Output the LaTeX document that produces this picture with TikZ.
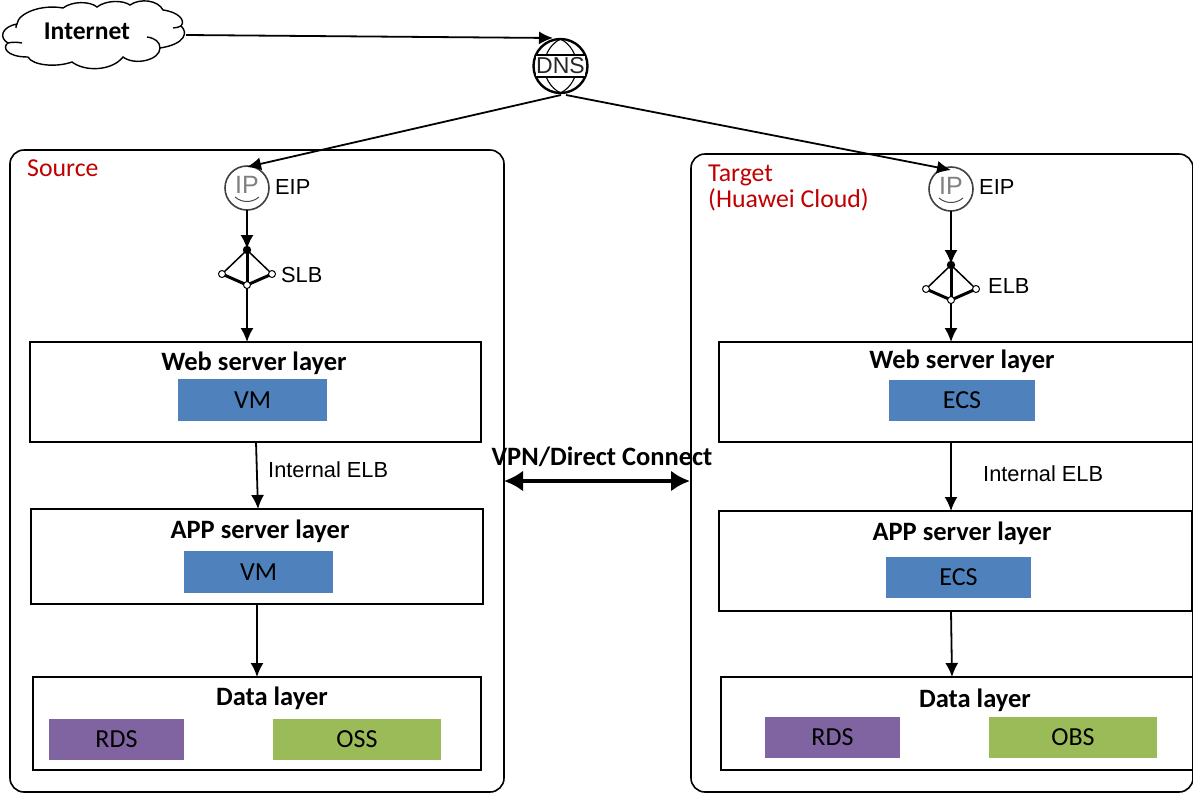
\documentclass[tikz,border=0pt]{standalone}
\usepackage{fontspec}
\setmainfont{Carlito}
\newfontfamily\arialf{Liberation Sans}
\usetikzlibrary{arrows.meta,calc}
\definecolor{vmblue}{HTML}{4F81BD}
\definecolor{dbpurple}{HTML}{8064A2}
\definecolor{ossgreen}{HTML}{9BBB59}
\definecolor{srcred}{HTML}{C00000}
\tikzset{
  x=1pt,y=-1pt,
  flow/.style={draw=black,line width=1.8pt,-{Latex[length=14pt,width=13pt]}},
  panel/.style={draw=black,line width=1.6pt,rounded corners=14pt,anchor=north west,inner sep=0,outer sep=0},
  layerbox/.style={draw=black,line width=1.6pt,anchor=north west,inner sep=0,outer sep=0},
  fillbox/.style={anchor=center,inner sep=0,outer sep=0,font=\fontsize{26}{28}\selectfont,text=black},
  layertitle/.style={font=\bfseries\fontsize{26.5}{28}\selectfont,anchor=center,inner sep=0},
  armlabel/.style={font=\arialf\fontsize{21.8}{24}\selectfont,anchor=west,inner sep=0},
  redlabel/.style={font=\fontsize{25.8}{26}\selectfont,text=srcred,anchor=north west,inner sep=0,align=left},
  ghost/.style={inner sep=0,outer sep=0,minimum width=#1,minimum height=40pt},
  opendot/.style={circle,draw=black,fill=white,line width=1pt,inner sep=0,minimum size=7pt},
  ipring/.style={circle,draw=black!75,line width=1.6pt,fill=white,inner sep=0,outer sep=0,minimum size=44pt},
}
\newcommand{\lbicon}[1]{%
  \fill (#1)+(0,-19) circle (4.2);
  \draw[line width=1.5pt] (#1)+(0,-19) -- +(-25,5);
  \draw[line width=1.5pt] (#1)+(0,-19) -- +(25,5);
  \draw[line width=3pt] (#1)+(0,-19) -- +(0,16);
  \draw[line width=3pt] (#1)+(-25,5) -- +(0,16) -- +(25,5);
  \node[opendot] at ($(#1)+(-25,5)$) {};
  \node[opendot] at ($(#1)+(25,5)$) {};
  \node[opendot] at ($(#1)+(0,16)$) {};
}
\newcommand{\ipicon}[1]{%
  \node[font=\arialf\fontsize{25}{26}\selectfont,text=black!50,inner sep=0] at ($(#1)+(0,-3)$) {IP};
  \draw[black!70,line width=1pt] ($(#1)+(-12,9)$) .. controls ($(#1)+(-5,15)$) and ($(#1)+(5,15)$) .. ($(#1)+(12,9)$);
}
\begin{document}
\begin{tikzpicture}
\useasboundingbox (0,0) rectangle (1193,793);
% panels
\node[panel,minimum width=494pt,minimum height=642pt] (src) at (10,150) {};
\node[panel,minimum width=502pt,minimum height=638pt] (tgt) at (691,154) {};
\node[redlabel] (srclab) at (27,160) {Source};
\node[redlabel] (tgtlab) at (708,165) {Target\\(Huawei Cloud)};
% cloud
\draw[line width=1.4pt,fill=white]
 (8,43) .. controls (-1,38) and (1,27) .. (17,24)
 .. controls (18,13) and (42,4) .. (63,8)
 .. controls (72,1) and (90,1) .. (97,7)
 .. controls (106,0) and (123,0) .. (130,5)
 .. controls (140,-2) and (158,0) .. (163,10)
 .. controls (178,12) and (186,20) .. (181,26)
 .. controls (188,32) and (186,44) .. (160,48)
 .. controls (160,60) and (135,66) .. (123,57)
 .. controls (112,71) and (85,72) .. (72,62)
 .. controls (55,68) and (32,65) .. (28,57)
 .. controls (6,57) and (2,47) .. (8,43) -- cycle;
\draw[line width=1.4pt] (8,43) .. controls (12,42) and (17,42) .. (22,43);
\draw[line width=1.4pt] (17,24) .. controls (16,25) and (16,26) .. (16,28);
\draw[line width=1.4pt] (147,37) .. controls (155,38) and (160,42) .. (160,48);
\draw[line width=1.4pt] (173,28) .. controls (176,28) and (179,27) .. (181,26);
\node[font=\bfseries\fontsize{25.6}{28}\selectfont,inner sep=0,minimum width=150pt,minimum height=50pt] (inet) at (87,31) {Internet};
% DNS
\node[circle,draw=black,line width=2.4pt,fill=white,inner sep=0,outer sep=0,minimum size=54pt] (dns) at (560.5,66) {};
\draw[line width=1.1pt] (560.5,39) .. controls (539,50) and (539,82) .. (560.5,93);
\draw[line width=1.1pt] (560.5,39) .. controls (582,50) and (582,82) .. (560.5,93);
\fill[white] (536,55) rectangle (585,77);
\draw[line width=1.1pt] (536,55) -- (585,55) (536,77) -- (585,77);
\node[font=\arialf\fontsize{23}{24}\selectfont,inner sep=0,text=black!85] (dnst) at (560.5,66) {DNS};
% IP + LB icons
\node[ipring] (eip1) at (247,188) {};
\ipicon{eip1}
\node[armlabel] (eip1l) at (275,187) {EIP};
\node[ipring] (eip2) at (951,189) {};
\ipicon{eip2}
\node[armlabel] (eip2l) at (979,187) {EIP};
\node[ghost=50pt] (slb) at (247,269) {};
\lbicon{slb}
\node[armlabel] (slbl) at (281,275) {SLB};
\node[ghost=50pt] (elb) at (951,284) {};
\lbicon{elb}
\node[armlabel] (elbl) at (988,286) {ELB};
% source layers
\node[layerbox,minimum width=451pt,minimum height=100pt] (web1) at (30,342) {};
\node[layertitle] (web1t) at (254,363) {Web server layer};
\node[fillbox,fill=vmblue,minimum width=149pt,minimum height=42pt] (vm1) at (252.5,400) {VM};
\node[layerbox,minimum width=452pt,minimum height=95pt] (app1) at (31,509) {};
\node[layertitle] (app1t) at (260,531) {APP server layer};
\node[fillbox,fill=vmblue,minimum width=149pt,minimum height=42pt] (vm2) at (258.5,572) {VM};
\node[layerbox,minimum width=448pt,minimum height=93pt] (data1) at (33,677) {};
\node[layertitle] (data1t) at (272,698) {Data layer};
\node[fillbox,fill=dbpurple,minimum width=135pt,minimum height=41pt] (rds1) at (116.5,739.5) {RDS};
\node[fillbox,fill=ossgreen,minimum width=168pt,minimum height=41pt] (oss) at (357,739.5) {OSS};
% target layers
\node[layerbox,minimum width=485pt,minimum height=100pt] (web2) at (719,342) {};
\node[layertitle] (web2t) at (962,361) {Web server layer};
\node[fillbox,fill=vmblue,minimum width=146pt,minimum height=41pt] (ecs1) at (962,400) {ECS};
\node[layerbox,minimum width=473pt,minimum height=100pt] (app2) at (719,511) {};
\node[layertitle] (app2t) at (962,533) {APP server layer};
\node[fillbox,fill=vmblue,minimum width=145pt,minimum height=41pt] (ecs2) at (958.5,577) {ECS};
\node[layerbox,minimum width=472pt,minimum height=93pt] (data2) at (721,677) {};
\node[layertitle] (data2t) at (975,700) {Data layer};
\node[fillbox,fill=dbpurple,minimum width=135pt,minimum height=41pt] (rds2) at (832.5,737.5) {RDS};
\node[fillbox,fill=ossgreen,minimum width=168pt,minimum height=41pt] (obs) at (1073,737.5) {OBS};
% helpers
\coordinate (a1) at (256,442);
\coordinate (a2) at (258,509);
\coordinate (b1) at (257,604);
\coordinate (b2) at (257,677);
\coordinate (c1) at (951,442);
\coordinate (c2) at (951,511);
\coordinate (d1) at (951,611);
\coordinate (d2) at (952,677);
\coordinate (s1) at (247,288);
\coordinate (s2) at (247,342);
\coordinate (e1) at (951,303);
\coordinate (e2) at (951,342);
\coordinate (st) at (247,249);
\coordinate (et) at (951,264);
\coordinate (i1) at (186,35);
\coordinate (dnsin) at (553,38);
\coordinate (dnsout) at (561,95);
\coordinate (dnsout2) at (566,95);
\coordinate (e1t) at (247,167);
\coordinate (e2t) at (951,170);
\coordinate (vpnl) at (504,481);
\coordinate (vpnr) at (690,481);
% connectors
\draw[flow] (i1) -- (dnsin);
\draw[flow] (dnsout) -- (e1t);
\draw[flow] (dnsout2) -- (e2t);
\draw[flow] (eip1.south) -- (st);
\draw[flow] (eip2.south) -- (et);
\draw[flow] (s1) -- (s2);
\draw[flow] (e1) -- (e2);
\draw[flow] (a1) -- (a2);
\draw[flow] (b1) -- (b2);
\draw[flow] (c1) -- (c2);
\draw[flow] (d1) -- (d2);
\draw[line width=4.8pt,{Latex[length=19pt,width=21pt]}-{Latex[length=19pt,width=21pt]}] (vpnl) -- (vpnr);
% labels
\node[armlabel] (il1) at (268,470) {Internal ELB};
\node[armlabel] (il2) at (983,474) {Internal ELB};
\node[font=\bfseries\fontsize{26.5}{28}\selectfont,inner sep=0] (vpn) at (602,457) {VPN/Direct Connect};
\end{tikzpicture}
\end{document}
